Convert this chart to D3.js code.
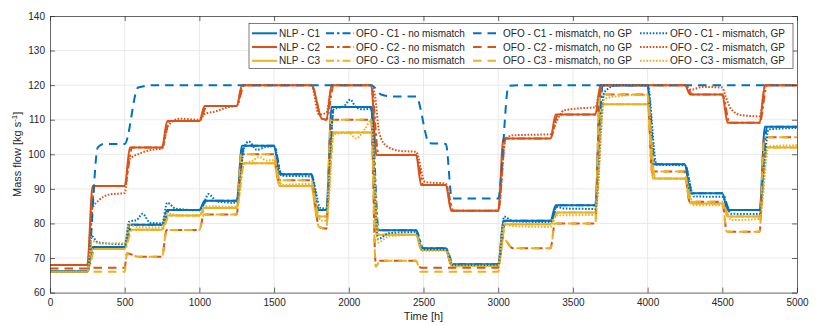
<!DOCTYPE html>
<html>
<head>
<meta charset="utf-8">
<script src="https://cdn.jsdelivr.net/npm/d3@7"></script>
<style>
  body { margin: 0; background: #fff; }
  text { font-family: "Liberation Sans", Arial, sans-serif; }
</style>
</head>
<body>
<svg id="myGraph"></svg>
<script>
var width = 830;
var height = 325;

// time at which each setpoint segment starts [h]
var segStart = [0, 250, 500, 750, 1000, 1250, 1500, 1750, 1850, 2150, 2450, 2650, 3000, 3350, 3650, 4000, 4250, 4500, 4750];
var tEnd = 5000;

var xTicks = [0, 500, 1000, 1500, 2000, 2500, 3000, 3500, 4000, 4500, 5000];
var yTicks = [60, 70, 80, 90, 100, 110, 120, 130, 140];

// one entry per segment: a plateau value, or [[hours after segment start, value], ...]
var nlpC1 = [66.2, 73.2, 79.6, 83.9, 86.6, 102.5, 94.2, 83.9, 113.7, 78.0, 72.8, 68.2, 80.8, 85.3, 120, 97.1, 88.7, 83.9, 108.0];
var nlpC2 = [68.0, 90.8, 102.0, 109.6, 114.0, 120, 120, [[70, 110.3], [100, 110.0]], 120, 99.8, 91.1, 83.7, 104.6, 111.5, 120, 120, 117.3, 109.1, 120];
var nlpC3 = [66.0, 72.6, 78.2, 82.3, 84.5, 97.4, 90.8, 82.0, 106.3, 76.7, 72.3, 67.8, 79.8, 83.2, 114.5, 93.0, 85.8, 82.0, 102.0];

// OFO without mismatch sits on top of the NLP solution
var ofoC1 = nlpC1.slice();
var ofoC2 = nlpC2.slice();
var ofoC3 = nlpC3.slice();

var misC1 = [66.2, [[70, 102], [110, 103]], [[90, 119.3], [200, 120]], 120, 120, 120, 120, 120, 120,
    [[70, 117.2], [150, 116.7]], [[90, 103.2], [200, 103]], [[40, 87.2]], [[70, 119.8], [150, 120]], 120, 120, 120, 120, 120, 120];
var misC2 = [67.0, 67.2, [[15, 71.4], [90, 70.4]], 78.1, 82.6, 100, 92.5, [[50, 79], [100, 78.5]], 110,
    [[30, 68.5], [60, 69.2]], 67.2, 67.2, [[30, 75.7], [100, 72.8]], 80.0, 117.3, 95.0, 86.3, 77.6, 104.9];
var misC3 = [66.0, 66.0, [[15, 71.4], [90, 70.4]], 78.1, 82.6, 100, 92.5, [[50, 79], [100, 78.5]], 110,
    [[30, 67.5], [60, 69.2]], 66.0, 66.0, [[30, 75.7], [100, 72.8]], 80.0, 117.3, 95.0, 86.3, 77.6, 104.9];

var gpC1 = [66.0, [[30, 76.3], [70, 74.5], [250, 74.0]], [[30, 80.5], [80, 81], [120, 82.8], [170, 80.2], [250, 80.0]],
    [[35, 86], [90, 84.3], [250, 83.8]], [[40, 87], [60, 88.5], [120, 86.3], [250, 86.0]],
    [[50, 102], [80, 103.7], [135, 101.3], [200, 102.2], [250, 102.3]], [[50, 93.8], [250, 93.6]], [[60, 84.5], [100, 84.3]],
    [[50, 113], [120, 114], [160, 115.8], [200, 113.5], [250, 113], [300, 113.2]], [[45, 75.5], [120, 77.2], [300, 77.5]],
    [[40, 72.5], [200, 72.4]], [[40, 68], [350, 68]], [[40, 82], [100, 80.6], [350, 80.4]], [[40, 84.8], [100, 84.3], [300, 84.2]],
    [[60, 118], [150, 120], [350, 120]], [[60, 97], [250, 96.8]], [[60, 87.8], [250, 87.7]], [[60, 82.8], [250, 82.7]], [[60, 107.2], [250, 107.6]]];
var gpC2 = [68.0, [[30, 84], [80, 86.8], [150, 88.4], [250, 88.8]], [[30, 98.5], [100, 100.2], [170, 101.2], [250, 101.7]],
    [[40, 108.2], [120, 110.3], [250, 110]], [[40, 111.8], [100, 112.3], [200, 113.7], [250, 114]], 120, 120,
    [[50, 111.5], [100, 112]], 120, [[25, 117], [55, 106], [100, 102.5], [190, 101], [300, 100.7]], [[60, 92], [200, 91.5]], 83.7,
    [[50, 104.5], [100, 105.5], [350, 105.8]], [[40, 109.5], [90, 112.7], [200, 113.3], [300, 113.6]], 120, 120,
    [[40, 118.7], [120, 119.5], [250, 119.3]], [[20, 117], [60, 113], [130, 111.3], [250, 111]], 120];
var gpC3 = [66.0, [[30, 75], [80, 74.2], [250, 74.3]], [[30, 79.6], [100, 78.9], [250, 78.8]], [[30, 83], [100, 82.4], [250, 82.3]],
    [[40, 85], [250, 84.8]], [[50, 97.3], [100, 98.0], [150, 99.2], [200, 98.2], [250, 98.3]], [[50, 91.2], [250, 91.4]],
    [[60, 81], [100, 80.8]], [[50, 105.8], [150, 106.2], [200, 104.6], [260, 107.5], [300, 109.8]],
    [[45, 74.5], [120, 76.3], [300, 76.7]], [[40, 72.1], [200, 72.1]], 67.8, [[40, 80], [100, 79.2], [350, 79.0]],
    [[40, 82.3], [300, 82.5]], [[60, 116], [150, 116.8], [300, 117.2], [350, 117]], [[50, 93], [250, 92.8]],
    [[60, 85.3], [250, 85.3]], [[60, 81], [250, 81.3]], [[60, 102.3], [250, 102.6]]];

var blue = "#0072BD", red = "#D95319", yellow = "#EDB120";
var dashSolid = null, dashDot = "8,3,2.5,3", dashLong = "8.5,6", dashDotted = "1.6,1.6";

var series = [
    {name: "NLP - C1", data: nlpC1, color: blue, dash: dashSolid, rise: 35},
    {name: "NLP - C2", data: nlpC2, color: red, dash: dashSolid, rise: 35},
    {name: "NLP - C3", data: nlpC3, color: yellow, dash: dashSolid, rise: 35},
    {name: "OFO - C1 - no mismatch", data: ofoC1, color: blue, dash: dashDot, rise: 50},
    {name: "OFO - C2 - no mismatch", data: ofoC2, color: red, dash: dashDot, rise: 50},
    {name: "OFO - C3 - no mismatch", data: ofoC3, color: yellow, dash: dashDot, rise: 50},
    {name: "OFO - C1 - mismatch, no GP", data: misC1, color: blue, dash: dashLong, rise: 45},
    {name: "OFO - C2 - mismatch, no GP", data: misC2, color: red, dash: dashLong, rise: 30},
    {name: "OFO - C3 - mismatch, no GP", data: misC3, color: yellow, dash: dashLong, rise: 30},
    {name: "OFO - C1 - mismatch, GP", data: gpC1, color: blue, dash: dashDotted, rise: 40},
    {name: "OFO - C2 - mismatch, GP", data: gpC2, color: red, dash: dashDotted, rise: 40},
    {name: "OFO - C3 - mismatch, GP", data: gpC3, color: yellow, dash: dashDotted, rise: 40}
];

// turn the per-segment values into [time, value] knots
function knots(vals, rise) {
    var pts = [];
    vals.forEach(function (seg, i) {
        var t0 = segStart[i];
        var t1 = i + 1 < segStart.length ? segStart[i + 1] : tEnd;
        var list = Array.isArray(seg) ? seg : [[i === 0 ? 0 : rise, seg]];
        if (i === 0 && list[0][0] !== 0) pts.push([0, list[0][1]]);
        list.forEach(function (p) { pts.push([t0 + p[0], p[1]]); });
        var last = list[list.length - 1];
        if (t0 + last[0] < t1) pts.push([t1, last[1]]);
    });
    return pts;
}

var pLeft = 50, pRight = 797, pTop = 16, pBottom = 292.6;

var svg = d3.select("#myGraph")
    .attr("width", width)
    .attr("height", height);

var x = d3.scaleLinear().domain([0, 5000]).range([pLeft, pRight]);
var y = d3.scaleLinear().domain([60, 140]).range([pBottom, pTop]);

// grid
svg.append("g").selectAll("line")
    .data(xTicks.slice(1, -1))
    .enter().append("line")
    .attr("x1", d => x(d)).attr("x2", d => x(d))
    .attr("y1", pTop).attr("y2", pBottom)
    .attr("stroke", "#e3e3e3").attr("stroke-width", 0.8);
svg.append("g").selectAll("line")
    .data(yTicks.slice(1, -1))
    .enter().append("line")
    .attr("x1", pLeft).attr("x2", pRight)
    .attr("y1", d => y(d)).attr("y2", d => y(d))
    .attr("stroke", "#e3e3e3").attr("stroke-width", 0.8);

svg.append("defs").append("clipPath").attr("id", "plotClip")
    .append("rect").attr("x", pLeft).attr("y", pTop)
    .attr("width", pRight - pLeft).attr("height", pBottom - pTop);

var line = d3.line()
    .x(d => x(d[0]))
    .y(d => y(d[1]))
    .curve(d3.curveMonotoneX);

svg.append("g").attr("clip-path", "url(#plotClip)")
    .selectAll("path")
    .data(series)
    .enter().append("path")
    .attr("d", d => line(knots(d.data, d.rise)))
    .attr("fill", "none")
    .attr("stroke", d => d.color)
    .attr("stroke-width", 2)
    .attr("stroke-dasharray", d => d.dash);

// axes, ticks pointing inward like the original
var axisColor = "#262626";
function styleAxis(g) {
    g.select(".domain").attr("stroke", axisColor).attr("stroke-width", 0.7);
    g.selectAll(".tick line").attr("stroke", axisColor).attr("stroke-width", 0.7);
    g.selectAll(".tick text").attr("fill", axisColor)
        .style("font-family", "'Liberation Sans', Arial, sans-serif").style("font-size", "10px");
}

svg.append("g").attr("transform", "translate(0," + pBottom + ")")
    .call(d3.axisBottom(x).tickValues(xTicks).tickSizeInner(-5).tickSizeOuter(0).tickPadding(6).tickFormat(d3.format("d")))
    .call(styleAxis);
svg.append("g").attr("transform", "translate(0," + pTop + ")")
    .call(d3.axisTop(x).tickValues(xTicks).tickSizeInner(-5).tickSizeOuter(0).tickFormat(""))
    .call(styleAxis);
svg.append("g").attr("transform", "translate(" + pLeft + ",0)")
    .call(d3.axisLeft(y).tickValues(yTicks).tickSizeInner(-5).tickSizeOuter(0).tickPadding(5))
    .call(styleAxis);
svg.append("g").attr("transform", "translate(" + pRight + ",0)")
    .call(d3.axisRight(y).tickValues(yTicks).tickSizeInner(-5).tickSizeOuter(0).tickFormat(""))
    .call(styleAxis);

svg.append("text")
    .attr("x", (pLeft + pRight) / 2).attr("y", 320)
    .attr("text-anchor", "middle").attr("fill", axisColor)
    .style("font-size", "11px")
    .text("Time [h]");

var yl = svg.append("text")
    .attr("transform", "translate(21," + ((pTop + pBottom) / 2) + ") rotate(-90)")
    .attr("text-anchor", "middle").attr("fill", axisColor)
    .style("font-size", "11px");
yl.append("tspan").text("Mass flow [kg s");
yl.append("tspan").attr("dy", -4).style("font-size", "8px").text("-1");
yl.append("tspan").attr("dy", 4).text("]");

// legend: 3 rows (C1..C3) x 4 columns (series type)
var legCols = [
    {x1: 252, x2: 277, tx: 279},
    {x1: 326, x2: 354, tx: 356},
    {x1: 473, x2: 500, tx: 503},
    {x1: 640, x2: 668, tx: 670}
];
var legRows = [33.3, 47, 60.8];

var leg = svg.append("g");
leg.append("rect")
    .attr("x", 249).attr("y", 23.5).attr("width", 544).attr("height", 45)
    .attr("fill", "#fff").attr("stroke", axisColor).attr("stroke-width", 0.6);

series.forEach(function (s, i) {
    var c = legCols[Math.floor(i / 3)];
    var r = legRows[i % 3];
    leg.append("line")
        .attr("x1", c.x1).attr("x2", c.x2).attr("y1", r).attr("y2", r)
        .attr("stroke", s.color).attr("stroke-width", 2)
        .attr("stroke-dasharray", s.dash);
    leg.append("text")
        .attr("x", c.tx).attr("y", r + 3.6)
        .attr("fill", axisColor)
        .style("font-size", "10px")
        .text(s.name);
});
</script>
</body>
</html>
